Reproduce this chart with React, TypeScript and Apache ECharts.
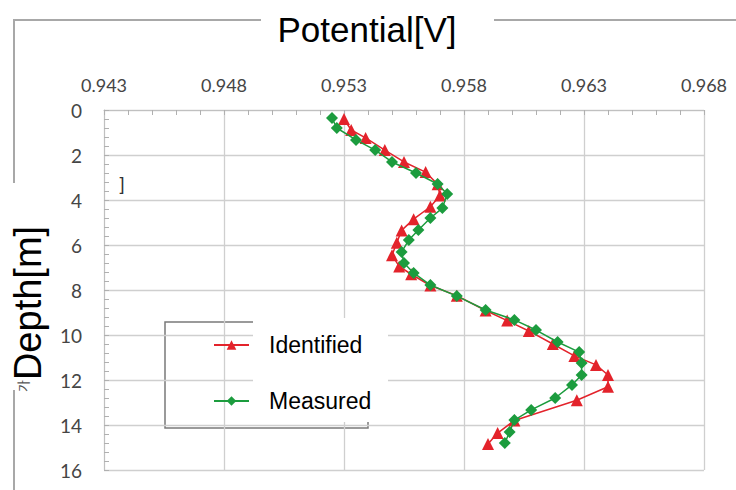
import React, { useEffect, useRef } from "react";
import * as echarts from "echarts";

const xTicks = [0.943, 0.948, 0.953, 0.958, 0.963, 0.968];
const yTicks = [0, 2, 4, 6, 8, 10, 12, 14, 16];

const identifiedDepth = [0.40, 0.89, 1.24, 1.78, 2.31, 2.76, 3.30, 3.80, 4.30, 4.85, 5.35, 5.90, 6.45, 6.95, 7.30, 7.80, 8.25, 8.91, 9.36, 9.82, 10.40, 10.93, 11.33, 11.78, 12.30, 12.90, 13.80, 14.36, 14.84];
const identifiedPotential = [0.9530, 0.9533, 0.9539, 0.9547, 0.9555, 0.9564, 0.9569, 0.9570, 0.9566, 0.9559, 0.9554, 0.9552, 0.9550, 0.9553, 0.9558, 0.9566, 0.9577, 0.9589, 0.9598, 0.9607, 0.9617, 0.9626, 0.9635, 0.9640, 0.9640, 0.9627, 0.9601, 0.9594, 0.9590];

const measuredDepth = [0.36, 0.80, 1.33, 1.78, 2.31, 2.80, 3.29, 3.73, 4.36, 4.80, 5.33, 5.78, 6.31, 6.80, 7.24, 7.78, 8.27, 8.89, 9.33, 9.78, 10.31, 10.76, 11.24, 11.78, 12.22, 12.80, 13.33, 13.78, 14.31, 14.80];
const measuredPotential = [0.9525, 0.9527, 0.9535, 0.9543, 0.9550, 0.9560, 0.9569, 0.9573, 0.9571, 0.9566, 0.9561, 0.9557, 0.9554, 0.9555, 0.9559, 0.9566, 0.9577, 0.9589, 0.9601, 0.9610, 0.9619, 0.9628, 0.9629, 0.9629, 0.9625, 0.9618, 0.9608, 0.9601, 0.9599, 0.9597];

const RED = "#e3232b";
const GREEN = "#1c9c3e";

export default function App() {
  const ref = useRef<HTMLDivElement>(null);
  useEffect(() => {
    if (!ref.current) return;
    const chart = echarts.init(ref.current, undefined, { renderer: "svg" });
    const xMin = xTicks[0];
    const xMax = xTicks[xTicks.length - 1];
    const yMin = yTicks[0];
    const yMax = yTicks[yTicks.length - 1];
    chart.setOption({
      animation: false,
      backgroundColor: "#ffffff",
      grid: { left: 104, top: 110, width: 600, height: 360, containLabel: false },
      xAxis: {
        type: "value",
        position: "top",
        min: xMin,
        max: xMax,
        interval: 0.005,
        axisLine: { show: true, lineStyle: { color: "#c0c0c0", width: 1 } },
        axisTick: { show: true, inside: true, length: 5, lineStyle: { color: "#b0b0b0" } },
        minorTick: { show: true, splitNumber: 5, length: 5, lineStyle: { color: "#b0b0b0" } },
        splitLine: { show: true, lineStyle: { color: "#cfcfcf", width: 1.3 } },
        axisLabel: {
          margin: 16,
          color: "#454545",
          fontSize: 18,
          fontFamily: "Lato",
          formatter: (v: number) => v.toFixed(3),
        },
      },
      yAxis: {
        type: "value",
        inverse: true,
        min: yMin,
        max: yMax,
        interval: 2,
        axisLine: { show: true, lineStyle: { color: "#c0c0c0", width: 1 } },
        axisTick: { show: true, inside: true, length: 5, lineStyle: { color: "#b0b0b0" } },
        minorTick: { show: true, splitNumber: 5, length: 5, lineStyle: { color: "#b0b0b0" } },
        splitLine: { show: true, lineStyle: { color: "#cfcfcf", width: 1.3 } },
        axisLabel: { margin: 22, color: "#454545", fontSize: 19, fontFamily: "Lato" },
      },
      legend: {
        orient: "vertical",
        left: 213,
        top: 332,
        padding: 0,
        itemWidth: 35,
        itemHeight: 12,
        itemGap: 30,
        textStyle: {
          color: "#000000",
          fontSize: 23,
          lineHeight: 26,
          fontFamily: "Liberation Sans",
          padding: [0, 0, 0, 15],
        },
        data: ["Identified", "Measured"],
      },
      graphic: [
        {
          type: "rect",
          z: 0,
          silent: true,
          shape: { x: 14, y: 20, width: 900, height: 700 },
          style: { fill: "none", stroke: "#a8a8a8", lineWidth: 2 },
        },
        {
          type: "rect",
          z: 1,
          silent: true,
          shape: { x: 261, y: 0, width: 233, height: 55 },
          style: { fill: "#ffffff" },
        },
        {
          type: "text",
          z: 2,
          silent: true,
          x: 367,
          y: 29,
          style: {
            text: "Potential[V]",
            fill: "#000000",
            font: "35px 'Liberation Sans'",
            align: "center",
            verticalAlign: "middle",
          },
        },
        {
          type: "rect",
          z: 1,
          silent: true,
          shape: { x: 0, y: 183, width: 56, height: 207 },
          style: { fill: "#ffffff" },
        },
        {
          type: "text",
          z: 2,
          silent: true,
          x: 28,
          y: 303,
          rotation: Math.PI / 2,
          style: {
            text: "Depth[m]",
            fill: "#000000",
            font: "38px 'Liberation Sans'",
            align: "center",
            verticalAlign: "middle",
          },
        },
        {
          type: "text",
          z: 2,
          silent: true,
          x: 122,
          y: 184,
          style: { text: "]", fill: "#333333", font: "18px 'Liberation Sans'", align: "center", verticalAlign: "middle" },
        },
        {
          type: "text",
          z: 2,
          silent: true,
          x: 22,
          y: 386,
          rotation: Math.PI / 2,
          style: { text: "가", fill: "#555555", font: "13px 'Noto Sans CJK KR'", align: "center", verticalAlign: "middle" },
        },
        {
          type: "rect",
          z: 0,
          silent: true,
          shape: { x: 165, y: 322, width: 203, height: 106 },
          style: { fill: "#ffffff", stroke: "#7a7a7a", lineWidth: 1.5 },
        },
        {
          type: "rect",
          z: 1,
          silent: true,
          shape: { x: 253, y: 318, width: 135, height: 104 },
          style: { fill: "#ffffff" },
        },
      ],
      series: [
        {
          name: "Identified",
          type: "line",
          data: identifiedPotential.map((v, i) => [v, identifiedDepth[i]]),
          symbol: "triangle",
          symbolSize: 12,
          lineStyle: { color: RED, width: 1.5 },
          itemStyle: { color: RED },
          z: 3,
        },
        {
          name: "Measured",
          type: "line",
          data: measuredPotential.map((v, i) => [v, measuredDepth[i]]),
          symbol: "diamond",
          symbolSize: 12,
          lineStyle: { color: GREEN, width: 1.5 },
          itemStyle: { color: GREEN },
          z: 4,
        },
      ],
    });
    return () => chart.dispose();
  }, []);
  return <div ref={ref} style={{ width: 736, height: 490, position: "absolute", left: 0, top: 0 }} />;
}
